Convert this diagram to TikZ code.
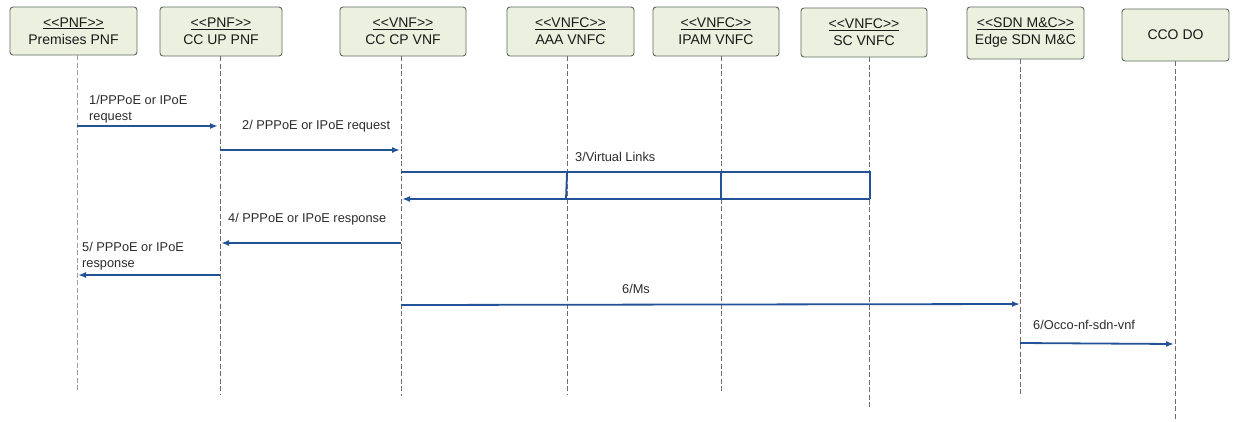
\documentclass[tikz,border=0pt]{standalone}
\usepackage{fontspec}
\setmainfont{Liberation Sans}
\usetikzlibrary{arrows.meta}
\definecolor{boxfill}{HTML}{EBF1DE}
\definecolor{boxdraw}{HTML}{5E6A60}
\definecolor{msgblue}{RGB}{36,82,150}
\definecolor{lifegray}{HTML}{6E6E6E}
\definecolor{txtgray}{HTML}{2B2B2B}
\newcommand\mylt{<\kern0pt<}
\newcommand\mygt{>\kern0pt>}
\tikzset{
  actorbox/.style={draw=boxdraw, fill=boxfill, rounded corners=3pt, line width=0.9pt,
    align=center, inner sep=0pt, font=\fontsize{14}{17}\selectfont, text=black!90},
  lifeline/.style={draw=lifegray, line width=0.9pt, dash pattern=on 5pt off 2.5pt},
  msg/.style={draw=msgblue, line width=1.8pt, -{Latex[length=8pt,width=6pt]}},
  vlink/.style={draw=msgblue, line width=1.8pt},
  msglabel/.style={font=\fontsize{12.8}{16.5}\selectfont, text=txtgray, inner sep=0pt, align=left}
}
\begin{document}
\begin{tikzpicture}[x=1pt,y=-1pt]
\useasboundingbox (0,0) rectangle (1233,421);
% actor boxes
\node[actorbox, minimum width=127pt, minimum height=48pt] (b1) at (73.5,31) {\underline{\mylt PNF\mygt}\\Premises PNF};
\node[actorbox, minimum width=122pt, minimum height=49pt] (b2) at (221,31.5) {\underline{\mylt PNF\mygt}\\CC UP PNF};
\node[actorbox, minimum width=126pt, minimum height=49pt] (b3) at (403,31.5) {\underline{\mylt VNF\mygt}\\CC CP VNF};
\node[actorbox, minimum width=127pt, minimum height=49pt] (b4) at (570.5,31.5) {\underline{\mylt VNFC\mygt}\\AAA VNFC};
\node[actorbox, minimum width=126pt, minimum height=49pt] (b5) at (716,31.5) {\underline{\mylt VNFC\mygt}\\IPAM VNFC};
\node[actorbox, minimum width=126pt, minimum height=49pt] (b6) at (864,32.5) {\underline{\mylt VNFC\mygt}\\SC VNFC};
\node[actorbox, minimum width=117pt, minimum height=52pt] (b7) at (1025.5,33) {\underline{\mylt SDN M\&C\mygt}\\Edge SDN M\&C};
\node[actorbox, minimum width=107pt, minimum height=52pt] (b8) at (1175.5,35) {CCO DO};
% lifelines
\coordinate (t1) at (77,55);   \coordinate (e1) at (77,390);
\coordinate (t2) at (220,56);  \coordinate (e2) at (220,395);
\coordinate (t3) at (401,56);  \coordinate (e3) at (401,396);
\coordinate (t4) at (567,56);  \coordinate (e4) at (567,394);
\coordinate (t5) at (721,56);  \coordinate (e5) at (721,391);
\coordinate (t6) at (869,57);  \coordinate (e6) at (869,409);
\coordinate (t7) at (1020,59); \coordinate (e7) at (1020,396);
\coordinate (t8) at (1175,61); \coordinate (e8) at (1175,421);
\draw[lifeline, draw=black!38] (t1) -- (e1);
\foreach \i in {2,...,8} \draw[lifeline] (t\i) -- (e\i);
% message end points
\coordinate (m1s) at (77,126);   \coordinate (m1e) at (218,126);
\coordinate (m2s) at (220,150);  \coordinate (m2e) at (400,150);
\coordinate (v0)  at (401,172);  \coordinate (v1) at (567,172); \coordinate (v2) at (721,172); \coordinate (v3) at (870,172);
\coordinate (w0)  at (402,199);  \coordinate (w1) at (566,199); \coordinate (w2) at (721,199); \coordinate (w3) at (870,199);
\coordinate (m4s) at (401,243);  \coordinate (m4e) at (221,243);
\coordinate (m5s) at (220,275);  \coordinate (m5e) at (78,275);
\coordinate (m6s) at (401,305);  \coordinate (m6e) at (1020,304);
\coordinate (m7s) at (1020,343); \coordinate (m7e) at (1174,344);
% messages
\draw[msg] (m1s) -- (m1e);
\draw[msg] (m2s) -- (m2e);
\draw[vlink] (v0) -- (v3) -- (w3);
\draw[vlink] (v1) -- (w1);
\draw[vlink] (v2) -- (w2);
\draw[msg] (w3) -- (w0);
\draw[msg] (m4s) -- (m4e);
\draw[msg] (m5s) -- (m5e);
\draw[msg] (m6s) -- (m6e);
\draw[msg] (m7s) -- (m7e);
% labels
\node[msglabel, anchor=west] (l1) at (89,109) {1/PPPoE or IPoE\\request};
\node[msglabel, anchor=west] (l2) at (242,126) {2/ PPPoE or IPoE request};
\node[msglabel, anchor=west] (l3) at (575,157) {3/Virtual Links};
\node[msglabel, anchor=west] (l4) at (228,219) {4/ PPPoE or IPoE response};
\node[msglabel, anchor=west] (l5) at (82,256) {5/ PPPoE or IPoE\\response};
\node[msglabel] (l6) at (636,289) {6/Ms};
\node[msglabel, anchor=west] (l7) at (1033,325) {6/Occo-nf-sdn-vnf};
\end{tikzpicture}
\end{document}
